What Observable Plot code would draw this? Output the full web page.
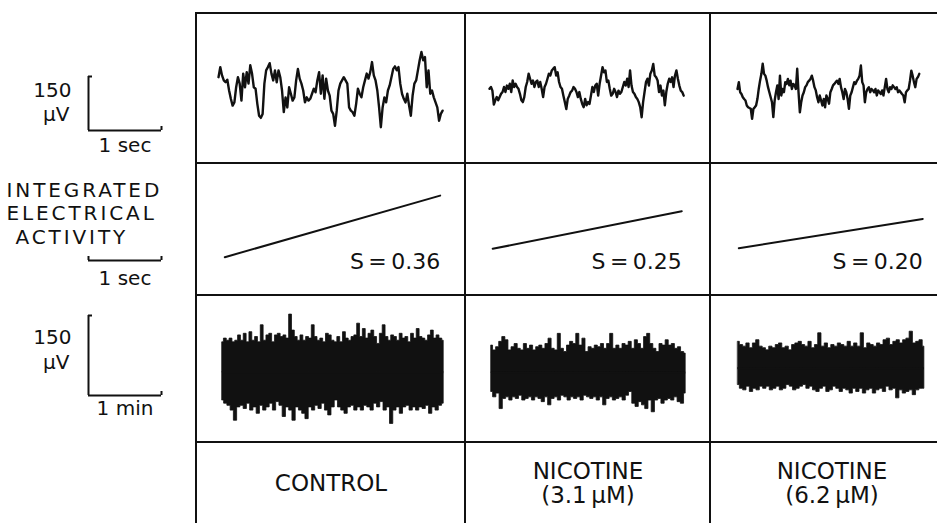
<!DOCTYPE html>
<html><head><meta charset="utf-8">
<script src="https://cdn.jsdelivr.net/npm/d3@7"></script>
<script src="https://cdn.jsdelivr.net/npm/@observablehq/plot@0.6"></script>
<style>
body{margin:0;background:#fff;}
#fig{position:relative;width:937px;height:523px;overflow:hidden;background:#fff;}
.gl{position:absolute;background:#111;}
</style></head><body><div id="fig"></div>
<script>
// ---------------- DATA ----------------
const conditions = ["CONTROL", "NICOTINE\n(3.1\u2009\u03bcM)", "NICOTINE\n(6.2\u2009\u03bcM)"];
const rowLabelLines = ["INTEGRATED", "ELECTRICAL", "ACTIVITY"];
const slopeS = [0.36, 0.25, 0.20];
const scaleBarUV = 150, scaleBarSec = 1, scaleBarMin = 1;

// fast EEG (μV, equally spaced samples) and their durations (s)
const eegControl = [37,65,42,28,23,30,0,-23,-42,-33,9,37,19,-28,47,9,51,19,70,47,9,5,-37,-70,-76,-65,19,56,65,76,47,28,56,23,56,37,0,-60,-19,-47,9,-9,-28,-19,28,60,33,19,0,-33,-19,-28,-23,-9,5,-5,28,51,-9,42,-23,33,0,-14,-56,-65,-98,-56,0,19,28,37,28,19,-47,-56,-60,-70,-37,5,-9,-19,9,28,47,33,51,79,42,28,0,-47,-102,-47,-19,-33,0,14,37,60,67,56,65,19,-9,-23,-33,-9,-42,-70,-14,19,28,56,84,107,84,93,9,56,-9,0,-19,-33,-47,-84,-65,-56];
const eegNic31 = [0,5,-5,-44,-32,-23,-32,-23,-14,-9,5,-9,9,0,14,-9,23,5,14,5,0,-14,-32,-37,-23,5,19,42,28,14,23,5,19,23,5,19,0,-23,5,14,28,42,37,51,56,60,37,46,19,5,0,-19,-37,-56,-28,-19,-9,-5,5,0,-9,-23,-9,-28,-42,-51,-28,-46,-37,-42,-19,5,-9,9,14,-19,14,37,60,46,51,19,23,0,-19,-14,0,-9,-23,-5,-14,-9,5,19,9,28,5,51,9,-9,-14,-23,-28,-37,-51,-79,-37,-9,19,28,9,42,51,69,37,32,23,-9,9,-19,-5,-46,-9,14,28,19,32,5,37,51,28,9,-5,-9,-19];
const eegNic62 = [9,28,0,-5,-14,-19,-23,-37,-42,-44,-46,-74,-46,-42,-37,-19,9,32,51,79,51,46,32,14,0,-14,-28,-69,-23,0,19,-19,46,-9,9,0,28,23,37,19,32,9,23,19,9,65,0,-56,-28,-9,0,14,19,28,32,37,46,32,14,5,-14,-28,-9,-23,-37,-19,-42,-9,-19,-32,0,9,19,23,28,32,23,37,14,0,-19,9,0,-19,-46,-9,0,14,28,23,32,37,46,74,28,19,-28,0,9,14,0,9,5,0,9,-9,5,0,-5,5,-9,14,37,9,0,14,9,19,14,9,14,0,5,0,-5,-9,-28,0,5,9,32,60,46,28,14,37,42,51];
const eegDurationSec = [3.07, 2.66, 2.49];

// integrated activity: ramp duration (s)
const integDurationSec = [2.95, 2.59, 2.52];

// slow (1-min) records: upper and lower envelopes (μV) and durations (min)
const slowTopControl = [56,63,59,63,56,59,69,59,72,56,75,59,66,56,88,59,69,72,56,69,72,66,69,63,108,78,66,59,69,59,66,63,88,66,59,63,56,72,69,59,56,66,56,75,63,59,66,69,91,66,81,63,72,78,66,53,72,88,66,59,69,66,59,72,63,66,56,72,63,81,66,63,59,69,78,63,69,63,59];
const slowBotControl = [-53,-59,-63,-72,-91,-66,-63,-69,-59,-72,-66,-78,-63,-72,-66,-59,-72,-56,-63,-84,-66,-72,-91,-66,-72,-78,-88,-66,-72,-63,-69,-59,-72,-81,-66,-53,-66,-72,-78,-66,-63,-72,-66,-72,-63,-66,-72,-59,-66,-56,-72,-66,-97,-72,-66,-78,-66,-63,-72,-66,-72,-66,-69,-63,-78,-66,-72,-63,-59];
const slowTopNic31 = [51,42,48,58,67,61,42,48,54,45,42,54,45,51,42,48,51,45,54,64,45,42,73,45,39,51,58,54,73,51,64,39,48,45,51,48,54,45,54,73,45,51,45,54,51,58,45,61,54,45,67,73,54,45,39,54,51,61,51,54,45,48,39,36];
const slowBotNic31 = [-36,-46,-39,-68,-49,-46,-52,-46,-49,-43,-52,-49,-46,-52,-46,-49,-55,-46,-61,-49,-46,-52,-43,-46,-52,-46,-49,-46,-52,-43,-46,-49,-46,-52,-46,-61,-49,-46,-52,-49,-46,-52,-43,-36,-58,-64,-55,-61,-68,-52,-74,-52,-49,-58,-52,-49,-52,-46,-55,-58,-39];
const slowTopNic62 = [50,44,41,47,38,47,53,41,38,34,41,38,44,47,38,41,34,44,47,50,44,41,50,38,44,66,41,47,38,44,41,47,44,41,50,41,47,41,66,38,47,44,41,47,44,53,56,44,50,53,47,53,56,69,47,50,53,41];
const slowBotNic62 = [-31,-38,-41,-34,-44,-38,-41,-34,-38,-34,-41,-38,-34,-41,-38,-31,-34,-41,-38,-34,-31,-38,-34,-41,-44,-38,-34,-44,-41,-34,-38,-44,-38,-41,-47,-38,-44,-38,-47,-41,-38,-47,-41,-38,-44,-34,-41,-38,-56,-41,-47,-44,-41,-50,-41,-38,-38];
const slowDurationMin = [3.03, 2.66, 2.55];

// ---------------- LAYOUT ----------------
const FONT = '"DejaVu Sans", sans-serif';
const INK = "#111";
const fig = document.getElementById("fig");
const colX = [196, 465, 710, 953];
const rowY = [13, 163, 295, 442, 523];
const PX_PER_SEC = 73, PX_PER_MIN = 73;
const PX_PER_UV_FAST = 54 / 150, PX_PER_UV_SLOW = 80 / 150, PX_PER_INT = 58;
const SVG_STYLE = {background: "transparent", fontFamily: FONT, color: INK, overflow: "visible", maxWidth: "none"};

function place(node, left, top, width, height) {
  const d = document.createElement("div");
  d.style.cssText = `position:absolute;left:${left}px;top:${top}px;width:${width}px;height:${height}px;line-height:0;`;
  d.appendChild(node);
  fig.appendChild(d);
  return node;
}
function panel({left, top, width, height, xOrigin, yOrigin, xPx, yPx, marks}) {
  const p = Plot.plot({
    width, height, margin: 0,
    x: {domain: [(left - xOrigin) / xPx, (left + width - xOrigin) / xPx], axis: null},
    y: {domain: [(yOrigin - (top + height)) / yPx, (yOrigin - top) / yPx], axis: null},
    style: SVG_STYLE,
    marks
  });
  return place(p, left, top, width, height);
}
const series = (vals, dur) => vals.map((v, i) => ({t: i * dur / (vals.length - 1), v}));
const cw = c => colX[c + 1] - colX[c];
const rh = r => rowY[r + 1] - rowY[r];

// Row 1: fast EEG
const eegSeries = [eegControl, eegNic31, eegNic62];
const eegStartX = [218, 489, 737], eegCenterY = [90, 88.3, 91.7];
eegSeries.forEach((vals, c) => panel({
  left: colX[c], top: rowY[0], width: cw(c), height: rh(0),
  xOrigin: eegStartX[c], yOrigin: eegCenterY[c], xPx: PX_PER_SEC, yPx: PX_PER_UV_FAST,
  marks: [Plot.line(series(vals, eegDurationSec[c]), {x: "t", y: "v", stroke: INK, strokeWidth: 2.4, strokeLinejoin: "round"})]
}));

// Row 2: integrated electrical activity
const intStartX = [224.3, 492.2, 738.3], intStartY = [256.7, 248.3, 247.7];
slopeS.forEach((s, c) => {
  const dur = integDurationSec[c];
  panel({
    left: colX[c], top: rowY[1], width: cw(c), height: rh(1),
    xOrigin: intStartX[c], yOrigin: intStartY[c], xPx: PX_PER_SEC, yPx: PX_PER_INT,
    marks: [
      Plot.line([{t: 0, v: 0}, {t: dur, v: s * dur}], {x: "t", y: "v", stroke: INK, strokeWidth: 2}),
      Plot.text([{t: dur, label: `S\u2009=\u2009${s.toFixed(2)}`}], {x: "t", text: "label", frameAnchor: "bottom", dy: -34, textAnchor: "end", lineAnchor: "middle", fontSize: 22, fill: INK})
    ]
  });
});

// Row 3: 1-min records (upper / lower envelopes of the dense trace)
const slowSeries = [[slowTopControl, slowBotControl], [slowTopNic31, slowBotNic31], [slowTopNic62, slowBotNic62]];
const slowStartX = [222, 491, 737.7], slowCenterY = [371.7, 372.3, 368];
slowSeries.forEach(([top, bot], c) => {
  const dur = slowDurationMin[c];
  panel({
    left: colX[c], top: rowY[2], width: cw(c), height: rh(2),
    xOrigin: slowStartX[c], yOrigin: slowCenterY[c], xPx: PX_PER_MIN, yPx: PX_PER_UV_SLOW,
    marks: [
      Plot.areaY(series(top, dur), {x: "t", y1: 0, y2: "v", fill: INK, curve: "step", stroke: INK, strokeWidth: 0.8}),
      Plot.areaY(series(bot, dur), {x: "t", y1: 0, y2: "v", fill: INK, curve: "step", stroke: INK, strokeWidth: 0.8}),
      Plot.ruleY([0], {x1: 0, x2: dur, stroke: INK, strokeWidth: 2})
    ]
  });
});

// Row 4: condition labels
conditions.forEach((lab, c) => {
  const p = Plot.plot({
    width: cw(c), height: rh(3), margin: 0,
    style: SVG_STYLE,
    marks: [Plot.text([lab], {frameAnchor: "middle", fontSize: 23, lineHeight: 1.07, fill: INK})]
  });
  place(p, colX[c], rowY[3], cw(c), rh(3));
});

// Left column: scale bars & row labels
panel({ // row 1
  left: 0, top: rowY[0], width: 196, height: rh(0),
  xOrigin: 88, yOrigin: 130, xPx: PX_PER_SEC, yPx: PX_PER_UV_FAST,
  marks: [
    Plot.ruleX([0], {y1: 0, y2: scaleBarUV, stroke: INK, strokeWidth: 2}),
    Plot.ruleY([scaleBarUV], {x1: 0, x2: 4 / PX_PER_SEC, stroke: INK, strokeWidth: 2}),
    Plot.ruleY([0], {x1: 0, x2: scaleBarSec, stroke: INK, strokeWidth: 2}),
    Plot.ruleX([scaleBarSec], {y1: 0, y2: 4 / PX_PER_UV_FAST, stroke: INK, strokeWidth: 2}),
    Plot.text([String(scaleBarUV)], {x: 0, y: scaleBarUV, dx: -17, dy: 14, textAnchor: "end", lineAnchor: "middle", fontSize: 20, fill: INK}),
    Plot.text(["\u03bcV"], {x: 0, y: scaleBarUV, dx: -19, dy: 38, textAnchor: "end", lineAnchor: "middle", fontSize: 20, fill: INK}),
    Plot.text([`${scaleBarSec} sec`], {x: scaleBarSec / 2, y: 0, dy: 15, lineAnchor: "middle", fontSize: 20, fill: INK})
  ]
});
const lineIndent = [0, 0, 9];
const left2 = panel({ // row 2
  left: 0, top: rowY[1], width: 196, height: rh(1),
  xOrigin: 88, yOrigin: 260, xPx: PX_PER_SEC, yPx: 1,
  marks: [
    Plot.ruleY([0], {x1: 0, x2: scaleBarSec, stroke: INK, strokeWidth: 2}),
    Plot.ruleX([0, scaleBarSec], {y1: 0, y2: 4, stroke: INK, strokeWidth: 2}),
    Plot.text([`${scaleBarSec} sec`], {x: scaleBarSec / 2, y: 0, dy: 18, lineAnchor: "middle", fontSize: 20, fill: INK}),
    ...rowLabelLines.map((ln, i) => Plot.text([ln], {x: 0, y: 0, dx: -82 + lineIndent[i], dy: -70 + i * 23.5, textAnchor: "start", lineAnchor: "middle", fontSize: 20, fill: INK}))
  ]
});
left2.querySelectorAll("text").forEach(t => {
  if (rowLabelLines.includes(t.textContent.trim())) t.style.letterSpacing = "2.9px";
});
panel({ // row 3
  left: 0, top: rowY[2], width: 196, height: rh(2),
  xOrigin: 88, yOrigin: 395, xPx: PX_PER_MIN, yPx: PX_PER_UV_SLOW,
  marks: [
    Plot.ruleX([0], {y1: 0, y2: scaleBarUV, stroke: INK, strokeWidth: 2}),
    Plot.ruleY([scaleBarUV], {x1: 0, x2: 4 / PX_PER_MIN, stroke: INK, strokeWidth: 2}),
    Plot.ruleY([0], {x1: 0, x2: scaleBarMin, stroke: INK, strokeWidth: 2}),
    Plot.ruleX([scaleBarMin], {y1: 0, y2: 4 / PX_PER_UV_SLOW, stroke: INK, strokeWidth: 2}),
    Plot.text([String(scaleBarUV)], {x: 0, y: scaleBarUV, dx: -17, dy: 22, textAnchor: "end", lineAnchor: "middle", fontSize: 20, fill: INK}),
    Plot.text(["\u03bcV"], {x: 0, y: scaleBarUV, dx: -19, dy: 47, textAnchor: "end", lineAnchor: "middle", fontSize: 20, fill: INK}),
    Plot.text([`${scaleBarMin} min`], {x: scaleBarMin / 2, y: 0, dy: 13, lineAnchor: "middle", fontSize: 20, fill: INK})
  ]
});

// Grid lines (table frame)
function gl(left, top, w, h) {
  const d = document.createElement("div");
  d.className = "gl";
  d.style.cssText += `left:${left}px;top:${top}px;width:${w}px;height:${h}px;`;
  fig.appendChild(d);
}
rowY.slice(0, 4).forEach(y => gl(colX[0] - 1, y - 1, 937 - colX[0] + 1, 2));
colX.slice(0, 3).forEach(x => gl(x - 1, rowY[0] - 1, 2, 523 - rowY[0] + 1));
</script></body></html>
